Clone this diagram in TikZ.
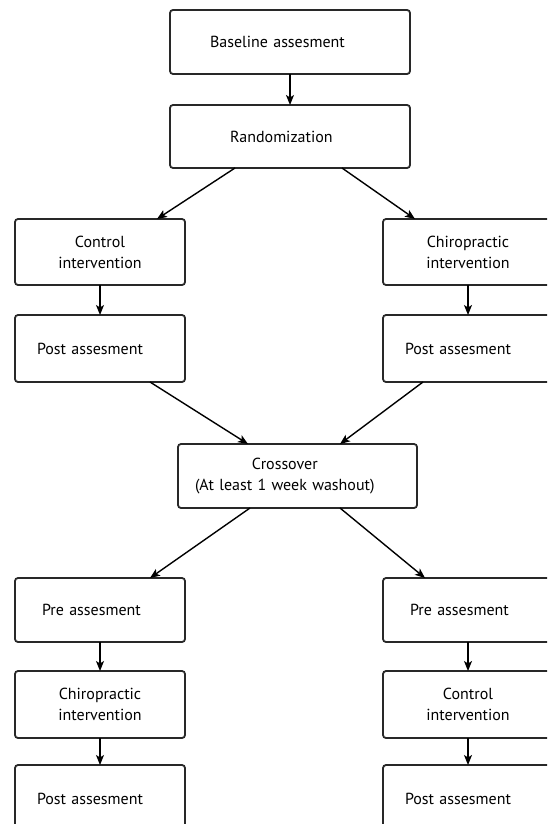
\documentclass[tikz,border=0pt]{standalone}
\usepackage{fontspec}
\setmainfont{PT Sans}
\usetikzlibrary{arrows.meta, positioning}
\definecolor{my_border}{RGB}{40, 40, 40}
\tikzset {
  box/.style = {draw=my_border, line width=1.8pt, rounded corners=3pt, rectangle, fill=white, outer sep=0pt, align=center, text centered, minimum width=170pt, minimum height=66pt, font=\fontsize{16}{21}\selectfont},
  leftbox/.style 2 args = {box, align=left, inner xsep=#1, text width=#2},
  line/.style = {-{Stealth[length=10pt, width=8pt, inset=2.5pt]}, line width=1.4pt, color=black},
}

\begin{document}
\begin{tikzpicture}[x=1pt, y=-1pt]

    \clip (0,0) rectangle (547,824);
    \fill[white] (0,0) rectangle (547,824);

    % start
    \node[leftbox={40pt}{160pt}, minimum height=64pt] (baseline) at (290,42) {Baseline assesment};
    \node[leftbox={60pt}{120pt}, minimum height=63pt, below=31pt of baseline] (random) {Randomization};

    % first period
    \node[box] (control_a) at (100,252) {Control\\intervention};
    \node[box, right=198pt of control_a] (chiro_a) {Chiropractic\\intervention};
    \node[leftbox={22pt}{126pt}, minimum height=67pt, below=30pt of control_a] (post_a) {Post assesment};
    \node[leftbox={22pt}{126pt}, minimum height=67pt, below=30pt of chiro_a] (post_b) {Post assesment};

    \node[leftbox={17pt}{205pt}, minimum height=64pt] (crossover) at (297.5,476) {\begin{tabular}{@{}c@{}}Crossover\\(At least 1 week washout)\end{tabular}};

    % second period
    \node[leftbox={27pt}{116pt}, minimum height=64pt] (pre_a) at (100,610) {Pre assesment};
    \node[leftbox={27pt}{116pt}, minimum height=64pt, right=198pt of pre_a] (pre_b) {Pre assesment};
    \node[box, minimum height=67pt, below=29pt of pre_a] (chiro_b) {Chiropractic\\intervention};
    \node[box, minimum height=67pt, below=29pt of pre_b] (control_b) {Control\\intervention};
    \node[leftbox={22pt}{126pt}, minimum height=67pt, below=27pt of chiro_b] (post_c) {Post assesment};
    \node[leftbox={22pt}{126pt}, minimum height=67pt, below=27pt of control_b] (post_d) {Post assesment};

    \draw[line] (baseline.south) -- (random.north);
    \draw[line] ([xshift=-55pt]random.south) -- ([xshift=57pt]control_a.north);
    \draw[line] ([xshift=52pt]random.south) -- ([xshift=-53pt]chiro_a.north);
    \draw[line] (control_a.south) -- (post_a.north);
    \draw[line] (chiro_a.south) -- (post_b.north);
    \draw[line] ([xshift=50pt]post_a.south) -- ([xshift=-49.5pt]crossover.north);
    \draw[line] ([xshift=-45pt]post_b.south) -- ([xshift=42.5pt]crossover.north);
    \draw[line] ([xshift=-47.5pt]crossover.south) -- ([xshift=50pt]pre_a.north);
    \draw[line] ([xshift=42.5pt]crossover.south) -- ([xshift=-43pt]pre_b.north);
    \draw[line] (pre_a.south) -- (chiro_b.north);
    \draw[line] (pre_b.south) -- (control_b.north);
    \draw[line] (chiro_b.south) -- (post_c.north);
    \draw[line] (control_b.south) -- (post_d.north);

\end{tikzpicture}
\end{document}
